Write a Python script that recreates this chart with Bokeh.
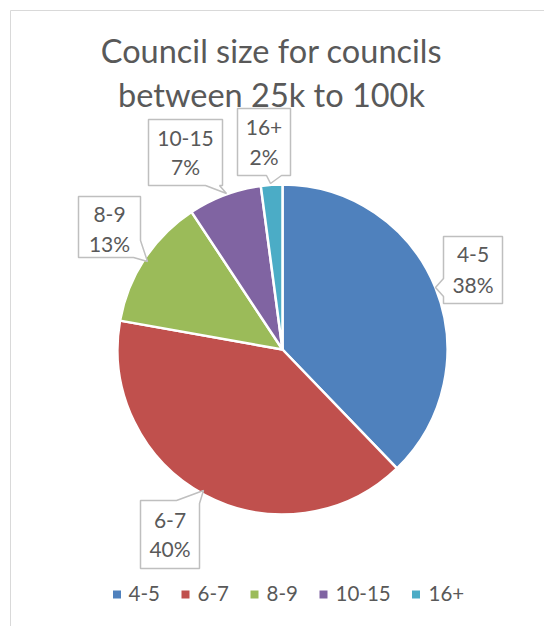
import math
from bokeh.plotting import figure
from bokeh.models import Range1d
from bokeh.core.properties import value
from bokeh.embed import file_html
from bokeh.resources import INLINE

# ---- data ----
categories = ["4-5", "6-7", "8-9", "10-15", "16+"]
shares = [37.8, 40.0, 12.9, 7.2, 2.1]
colors = ["#4F81BD", "#C0504D", "#9BBB59", "#8064A2", "#4BACC6"]
title_lines = ["Council size for councils", "between 25k to 100k"]

# ---- layout (pixel coords measured from top-left) ----
W, H = 544, 626
CX, CY, R = 282, 349, 165
FONT = "Lato"
TXT = "#595959"
TITLE_PX = 32.5
LABEL_PX = 21
LEGEND_PX = 20.5
BASE_FIX = 0.45  # empirical shift of the alphabetic baseline in svg output

def Y(y):
    return H - y

def YB(y, size):
    return H - (y - BASE_FIX * size)

p = figure(width=W, height=H, output_backend="svg", toolbar_location=None,
           x_range=Range1d(0, W), y_range=Range1d(0, H), min_border=0)
p.axis.visible = False
p.grid.visible = False
p.outline_line_color = None
p.background_fill_color = "white"
p.border_fill_color = "white"

# chart area border (top & left visible)
p.line(x=[10, 10, W], y=[Y(H), Y(10), Y(10)], line_color="#d9d9d9", line_width=1)

# title
for i, t in enumerate(title_lines):
    p.text(x=[271], y=[YB([65, 109][i], TITLE_PX)], text=[t], text_font=value(FONT),
           text_font_size=f"{TITLE_PX}px", text_color=TXT, text_align="center",
           text_baseline="alphabetic")

# pie
total = sum(shares)
cum = 0.0
starts, ends = [], []
for s in shares:
    starts.append(math.pi / 2 - 2 * math.pi * cum / total)
    cum += s
    ends.append(math.pi / 2 - 2 * math.pi * cum / total)
p.wedge(x=[CX] * len(shares), y=[Y(CY)] * len(shares), radius=R,
        start_angle=starts, end_angle=ends, direction="clock",
        fill_color=colors, line_color="white", line_width=2.5)

# data-label callouts: polygon outlines and text baselines
callouts = [
    # 4-5
    dict(poly=[(443, 236), (502, 236), (502, 303), (443, 303), (443, 296), (435, 287), (443, 278)],
         cx=472.5, base=(263, 293)),
    # 6-7
    dict(poly=[(140, 500), (176, 500), (203, 490), (199, 503), (199, 568), (140, 568)],
         cx=169.5, base=(529, 557)),
    # 8-9
    dict(poly=[(78, 196), (140, 196), (140, 240), (147, 261), (133, 257), (78, 257)],
         cx=109, base=(223, 252)),
    # 10-15
    dict(poly=[(148, 119), (222, 119), (222, 185), (219, 185), (226, 193), (205, 185), (148, 185)],
         cx=185, base=(147, 175)),
    # 16+
    dict(poly=[(237, 108), (290, 108), (290, 175), (281, 175), (270, 183), (266, 175), (237, 175)],
         cx=263.5, base=(136, 165)),
]
for cat, s, c in zip(categories, shares, callouts):
    xs = [pt[0] for pt in c["poly"]]
    ys = [Y(pt[1]) for pt in c["poly"]]
    p.patch(x=xs, y=ys, fill_color="white", line_color="#bfbfbf", line_width=1.5)
    p.text(x=[c["cx"], c["cx"]], y=[YB(c["base"][0], LABEL_PX), YB(c["base"][1], LABEL_PX)],
           text=[cat, f"{round(s)}%"], text_font=value(FONT), text_font_size=f"{LABEL_PX}px",
           text_color=TXT, text_align="center", text_baseline="alphabetic")

# legend
leg_marker_x = [116.5, 185, 254, 323, 415.5]
leg_text_x = [128, 197, 266, 335, 428]
LEG_Y = 594
p.scatter(x=leg_marker_x, y=[Y(LEG_Y)] * 5, marker="square", size=8,
          fill_color=colors, line_color=None)
p.text(x=leg_text_x, y=[YB(LEG_Y + 8, LEGEND_PX)] * 5, text=categories, text_font=value(FONT),
       text_font_size=f"{LEGEND_PX}px", text_color=TXT, text_align="left",
       text_baseline="alphabetic")

open("out.html", "w").write(file_html(p, INLINE))
